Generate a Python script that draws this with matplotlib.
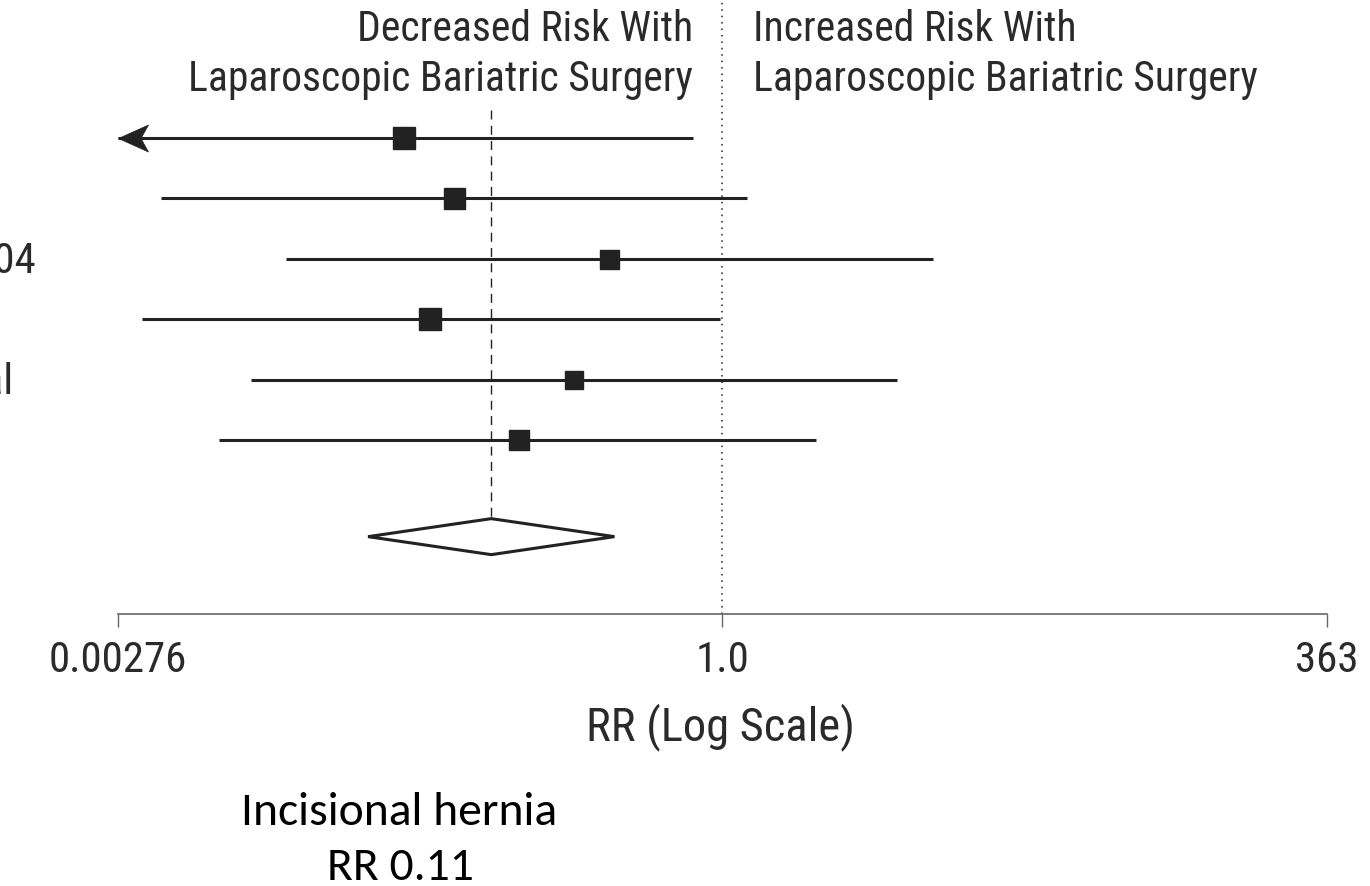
import matplotlib.pyplot as plt
import numpy as np
from matplotlib.path import Path
from matplotlib.patches import Polygon

# study estimates (RR) with 95% CI
rr = [0.0449, 0.0732, 0.332, 0.0579, 0.236, 0.137]
ci_lo = [0.0010, 0.0042, 0.0142, 0.00349, 0.0101, 0.00739]
ci_hi = [0.754, 1.276, 7.76, 0.98, 5.51, 2.50]
box_px = [22, 21, 19, 22, 18, 20.5]   # weight boxes
study_labels = ['2004', 'et al']       # cut off at the left edge in the reference
label_rows = [3, 5]

pooled = 0.105
pooled_lo = 0.0316
pooled_hi = 0.349

xmin, xmax = 0.00276, 363
tick_vals = [0.00276, 1.0, 363]
tick_text = ['0.00276', '1.0', '363']

narrow = ['Roboto Condensed', 'DejaVu Sans']
note_font = ['Carlito', 'DejaVu Sans']

W, H = 1370, 886
fig = plt.figure(figsize=(W / 100, H / 100), dpi=100)
ax = fig.add_axes([118 / W, (H - 614) / H, (1327 - 118) / W, 614 / H])
ax.set_xscale('log')
ax.set_xlim(xmin, xmax)
pitch = 60.4
ax.set_ylim(1 + (614 - 138) / pitch, 1 - 138 / pitch)

ink = '#222222'
txt_col = '#2a2a2a'
n = len(rr)
rows = np.arange(1, n + 1)

# arrow head for truncated CIs (tip at the data point)
head = Path([(0, 0), (1, 0.45), (0.75, 0), (1, -0.45), (0, 0)],
            [Path.MOVETO, Path.LINETO, Path.LINETO, Path.LINETO, Path.CLOSEPOLY])

for i in range(n):
    lo = max(ci_lo[i], xmin)
    ax.plot([lo, ci_hi[i]], [rows[i], rows[i]], color=ink, lw=2.2, solid_capstyle='butt', zorder=3)
    ax.plot(rr[i], rows[i], marker='s', ms=box_px[i] * 0.72, color=ink, mec=ink, zorder=4)
    if ci_lo[i] < xmin:
        ax.plot(xmin, rows[i], marker=head, ms=60 * 0.72, color=ink, mec=ink, mew=0.5,
                zorder=4, clip_on=False)

yp = n + 1.6
h = 18 / pitch
ax.add_patch(Polygon([(pooled_lo, yp), (pooled, yp - h), (pooled_hi, yp), (pooled, yp + h)],
                     closed=True, facecolor='white', edgecolor=ink, lw=2.2, zorder=4))

# reference lines
ax.plot([pooled, pooled], [1 - 28 / pitch, yp - h], color=ink, lw=1.0,
        linestyle=(0, (6.5, 4.5)), zorder=2)
ax.axvline(1.0, color=ink, lw=1.1, linestyle=(0, (1, 3.2)), zorder=2)

for s in ['top', 'left', 'right']:
    ax.spines[s].set_visible(False)
ax.spines['bottom'].set_color('#666666')
ax.spines['bottom'].set_linewidth(1.2)
ax.set_yticks([])
ax.set_xticks(tick_vals)
ax.set_xticklabels(tick_text)
ax.minorticks_off()
ax.tick_params(axis='x', direction='out', length=9.4, width=1.0, color='#666666',
               pad=9, labelsize=31, labelcolor=txt_col)
for t in ax.get_xticklabels():
    t.set_fontfamily(narrow)

def px(x, y):
    return x / W, 1 - y / H

hdr = dict(fontsize=30, family=narrow, color=txt_col, va='baseline')
fig.text(*px(693, 41), 'Decreased Risk With', ha='right', **hdr)
fig.text(*px(693, 91), 'Laparoscopic Bariatric Surgery', ha='right', **hdr)
fig.text(*px(753, 41), 'Increased Risk With', ha='left', **hdr)
fig.text(*px(753, 91), 'Laparoscopic Bariatric Surgery', ha='left', **hdr)

fig.text(*px(721, 740), 'RR (Log Scale)', ha='center', va='baseline',
         fontsize=33.5, family=narrow, color=txt_col)

for lab, r in zip(study_labels, label_rows):
    ypix = 138 + (r - 1) * pitch
    fig.text(*px(36 if lab == '2004' else 13, ypix + 14), lab, ha='right', va='baseline',
             fontsize=31, family=narrow, color=txt_col)

fig.text(*px(399, 825), 'Incisional hernia', ha='center', va='baseline',
         fontsize=34.3, family=note_font, color='black')
fig.text(*px(400, 880), 'RR 0.11', ha='center', va='baseline',
         fontsize=34.3, family=note_font, color='black')

fig.savefig('out.png', dpi=100)
